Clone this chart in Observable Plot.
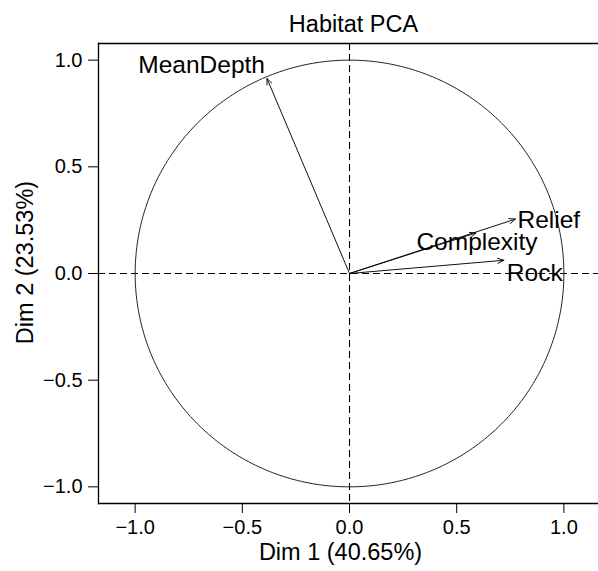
<!DOCTYPE html>
<html>
<head>
<meta charset="utf-8">
<script src="https://cdn.jsdelivr.net/npm/d3@7"></script>
<script src="https://cdn.jsdelivr.net/npm/@observablehq/plot@0.6"></script>
<style>
  html, body { margin: 0; padding: 0; background: #fff; overflow: hidden; }
  #chart svg { display: block; }
</style>
</head>
<body>
<div id="chart"></div>
<script>
// Variable loadings on the first two principal components
const variables = ["MeanDepth", "Relief", "Complexity", "Rock"];
const dim1 = [-0.385, 0.774, 0.59, 0.72];
const dim2 = [0.914, 0.255, 0.19, 0.062];

const tickValues = [-1, -0.5, 0, 0.5, 1];
const titleText = "Habitat PCA";
const xTitle = "Dim 1 (40.65%)";
const yTitle = "Dim 2 (23.53%)";

const loadings = variables.map((name, i) => ({name, x: dim1[i], y: dim2[i]}));

// Unit correlation circle
const circle = d3.range(0, 361).map(a => ({
  x: Math.cos(a * Math.PI / 180),
  y: Math.sin(a * Math.PI / 180)
}));

const font = "'Liberation Sans', Arial, Helvetica, sans-serif";
const fmt = d3.format(".1f");

// One text mark per variable so each label can sit on its own side of the arrow tip
function varLabel(name, opts) {
  return Plot.text(loadings.filter(d => d.name === name), {
    x: "x", y: "y", text: "name", fontSize: 24.5, fill: "black", ...opts
  });
}

const chart = Plot.plot({
  width: 598,
  height: 571,
  marginLeft: 98,
  marginRight: 0,
  marginTop: 43,
  marginBottom: 68,
  style: {fontFamily: font, color: "black", background: "white"},
  x: {domain: [-1.171, 1.1615]},
  y: {domain: [-1.078, 1.078]},
  marks: [
    Plot.ruleY([0], {stroke: "black", strokeWidth: 1.1, strokeDasharray: "7,4"}),
    Plot.ruleX([0], {stroke: "black", strokeWidth: 1.1, strokeDasharray: "7,4"}),
    Plot.line(circle, {x: "x", y: "y", stroke: "#222", strokeWidth: 1}),
    Plot.arrow(loadings, {
      x1: () => 0, y1: () => 0, x2: "x", y2: "y",
      stroke: "#111", strokeWidth: 1, headLength: 10, headAngle: 45
    }),
    varLabel("MeanDepth", {textAnchor: "end", dx: -2, dy: -13}),
    varLabel("Relief", {textAnchor: "start", dx: 2, dy: 1}),
    varLabel("Complexity", {textAnchor: "middle", dx: 1, dy: 9}),
    varLabel("Rock", {textAnchor: "start", dx: 3, dy: 13}),
    Plot.frame({anchor: "top", stroke: "black", strokeWidth: 1.3}),
    Plot.frame({anchor: "left", stroke: "black", strokeWidth: 1.3}),
    Plot.frame({anchor: "bottom", stroke: "black", strokeWidth: 1.3}),
    Plot.axisX({
      ticks: tickValues, tickFormat: fmt, tickSize: 10, tickPadding: 6,
      fontSize: 20, label: null, stroke: "black"
    }),
    Plot.axisY({
      ticks: tickValues, tickFormat: fmt, tickSize: 10, tickPadding: 6,
      fontSize: 20, label: null, stroke: "black"
    }),
    Plot.text([titleText], {
      frameAnchor: "top", textAnchor: "middle", dx: 5, dy: -28, fontSize: 23.5, fill: "black"
    }),
    Plot.text([xTitle], {
      frameAnchor: "bottom", textAnchor: "middle", dx: -8, dy: 56, fontSize: 23.5, fill: "black"
    }),
    Plot.text([yTitle], {
      frameAnchor: "left", textAnchor: "middle", rotate: -90, dx: -73, dy: -11,
      fontSize: 23.5, fill: "black"
    })
  ]
});

document.getElementById("chart").appendChild(chart);
</script>
</body>
</html>
